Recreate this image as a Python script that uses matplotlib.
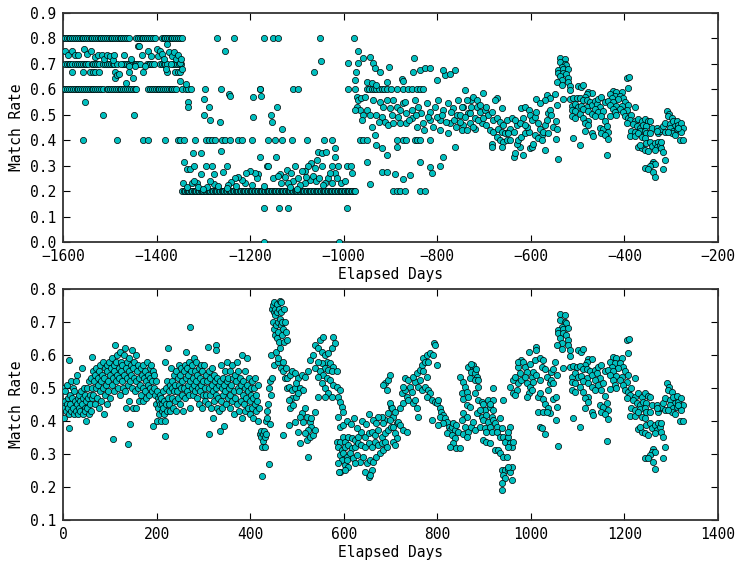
import matplotlib
matplotlib.use('Agg')
import matplotlib.pyplot as plt

plt.rcParams['font.family'] = ['DejaVu Sans Mono']

# ---- top panel: points sitting on discrete rate levels (x = elapsed day) ----
top_row_80 = [-1599, -1595, -1591, -1587, -1584, -1580, -1576, -1572, -1568, -1564, -1560, -1557,
              -1553, -1549, -1545, -1541, -1537, -1533, -1529, -1526, -1522, -1518, -1514, -1510,
              -1506, -1502, -1498, -1495, -1491, -1487, -1483, -1479, -1475, -1471, -1467, -1463,
              -1459, -1443, -1439, -1436, -1432, -1428, -1424, -1420, -1416, -1412, -1408, -1404,
              -1389, -1385, -1381, -1377, -1373, -1370, -1366, -1362, -1358, -1354, -1350, -1346,
              -1271, -1234, -1171, -1152, -1141, -1051, -978]
top_row_70 = [-1596, -1592, -1588, -1584, -1581, -1574, -1570, -1566, -1562, -1558, -1554, -1550,
              -1546, -1539, -1535, -1531, -1527, -1524, -1514, -1510, -1506, -1502, -1498, -1494,
              -1490, -1485, -1471, -1467, -1463, -1459, -1455, -1451, -1447, -1443, -1439, -1435,
              -1421, -1417, -1413, -1409, -1393, -1389, -1385, -1381, -1378, -1364, -1360, -1356,
              -1352, -1348]
top_row_667 = [-1581, -1557, -1542, -1536, -1532, -1524, -1489, -1460, -1428, -1378, -1361, -1355, -1350]
top_row_60 = [-1599, -1595, -1591, -1587, -1583, -1579, -1575, -1571, -1567, -1563, -1559, -1555,
              -1551, -1547, -1543, -1539, -1535, -1531, -1527, -1523, -1519, -1515, -1507, -1503,
              -1499, -1495, -1491, -1487, -1483, -1479, -1475, -1471, -1467, -1463, -1459, -1455,
              -1451, -1447, -1443, -1418, -1414, -1410, -1406, -1402, -1398, -1394, -1390, -1386,
              -1382, -1378, -1374, -1370, -1366, -1362, -1358, -1346, -1337, -1332, -1327, -1296,
              -1262, -1180, -1178, -1108, -1097, -990, -976, -951, -945, -940, -935, -930, -924,
              -919, -914, -908, -898, -887, -873, -862, -853, -844, -837, -830]
top_row_40 = [-1557, -1485, -1430, -1418, -1383, -1354, -1349, -1341, -1318, -1295, -1289, -1282,
              -1275, -1261, -1254, -1243, -1227, -1217, -1197, -1161, -1146, -1131, -1110, -1079,
              -1042, -1025, -965, -958, -951, -887, -873, -866, -848, -843, -837, -816]
top_row_20 = [-1345, -1342, -1339, -1336, -1333, -1330, -1327, -1324, -1321, -1318, -1315, -1312,
              -1309, -1306, -1303, -1300, -1297, -1294, -1291, -1288, -1285, -1282, -1279, -1276,
              -1273, -1270, -1267, -1264, -1261, -1258, -1255, -1252, -1249, -1246, -1243, -1240,
              -1237, -1234, -1231, -1228, -1225, -1222, -1219, -1216, -1213, -1210, -1207, -1204,
              -1201, -1198, -1195, -1192, -1189, -1186, -1183, -1180, -1177, -1174, -1171, -1168,
              -1165, -1162, -1159, -1156, -1153, -1150, -1147, -1144, -1141, -1138, -1135, -1132,
              -1129, -1126, -1123, -1120, -1117, -1114, -1111, -1108, -1105, -1102, -1099, -1096,
              -1093, -1090, -1087, -1084, -1081, -1078, -1075, -1072, -1069, -1066, -1063, -1060,
              -1057, -1054, -1051, -1048, -1045, -1042, -1039, -1036, -1033, -1030, -1027, -1024,
              -1021, -1018, -1015, -1012, -1009, -1006, -1003, -1000, -997, -994, -991, -988,
              -985, -982, -979, -976, -895, -887, -880, -869, -837, -826]
top_row_133 = [-1171, -1139, -1119, -992]
top_row_00 = [-1170, -1010]

# ---- top panel: scattered points (day, rate) ----
top_early = [(-1596, 0.75), (-1590, 0.733), (-1581, 0.75), (-1575, 0.733), (-1568, 0.733), (-1556, 0.757),
             (-1548, 0.74), (-1540, 0.75), (-1532, 0.727), (-1525, 0.733), (-1517, 0.733), (-1512, 0.72),
             (-1506, 0.733), (-1500, 0.73), (-1494, 0.716), (-1490, 0.733), (-1488, 0.645), (-1484, 0.655),
             (-1480, 0.66), (-1476, 0.7), (-1470, 0.733), (-1466, 0.625), (-1460, 0.69), (-1455, 0.72),
             (-1450, 0.645), (-1446, 0.69), (-1440, 0.77), (-1437, 0.77), (-1432, 0.733), (-1425, 0.69),
             (-1418, 0.75), (-1412, 0.73), (-1405, 0.7), (-1400, 0.76), (-1396, 0.73), (-1392, 0.75),
             (-1388, 0.74), (-1384, 0.72), (-1380, 0.68), (-1378, 0.78), (-1374, 0.745), (-1370, 0.7),
             (-1366, 0.73), (-1362, 0.745), (-1358, 0.72), (-1354, 0.735), (-1350, 0.705), (-1348, 0.72),
             (-1346, 0.68), (-1554, 0.55), (-1514, 0.5), (-1448, 0.5),
             (-1350, 0.634), (-1337, 0.62), (-1332, 0.55), (-1332, 0.53), (-1298, 0.56), (-1289, 0.53),
             (-1298, 0.5), (-1285, 0.48), (-1265, 0.47), (-1245, 0.58), (-1323, 0.351), (-1305, 0.348),
             (-1341, 0.313), (-1336, 0.287), (-1329, 0.287), (-1319, 0.299), (-1295, 0.299), (-1282, 0.299),
             (-1304, 0.266), (-1277, 0.266), (-1262, 0.359), (-1257, 0.274), (-1250, 0.299), (-1343, 0.231),
             (-1336, 0.217), (-1324, 0.231), (-1314, 0.231), (-1277, 0.228), (-1268, 0.22), (-1293, 0.217),
             (-1311, 0.217), (-1254, 0.752), (-1049, 0.71), (-1063, 0.667), (-1243, 0.575), (-1193, 0.57),
             (-1177, 0.575), (-1142, 0.53), (-1156, 0.5), (-1153, 0.47), (-1193, 0.49), (-1131, 0.445),
             (-1179, 0.335), (-1144, 0.333), (-1164, 0.3), (-1055, 0.355), (-1047, 0.348), (-1037, 0.355),
             (-1058, 0.322), (-1069, 0.309), (-1076, 0.299), (-1083, 0.279), (-1090, 0.279), (-1104, 0.299),
             (-1019, 0.368), (-1019, 0.335), (-1026, 0.299), (-1012, 0.299), (-1047, 0.299), (-994, 0.299),
             (-985, 0.299), (-982, 0.27), (-1019, 0.27), (-1033, 0.25), (-1040, 0.231), (-1026, 0.231),
             (-1072, 0.244), (-1083, 0.231), (-1094, 0.224), (-1108, 0.24), (-1119, 0.231), (-1133, 0.231),
             (-1136, 0.266), (-1122, 0.283), (-1126, 0.257), (-1151, 0.25), (-1161, 0.299), (-1183, 0.266),
             (-1186, 0.25), (-1190, 0.27), (-1201, 0.279), (-1208, 0.27), (-1211, 0.231), (-1218, 0.244),
             (-1226, 0.257), (-1233, 0.25), (-1240, 0.237), (-1247, 0.224), (-1250, 0.211), (-1065, 0.26),
             (-1060, 0.24), (-1052, 0.25), (-1044, 0.225), (-1030, 0.27), (-1015, 0.25), (-1005, 0.23),
             (-998, 0.24), (-1062, 0.29), (-1080, 0.255), (-1097, 0.25), (-1112, 0.27), (-1100, 0.21),
             (-1115, 0.215), (-1140, 0.26), (-1170, 0.22), (-1195, 0.225), (-1230, 0.22), (-1300, 0.21),
             (-1285, 0.24), (-1320, 0.24)]

top_mid = [(-969, 0.752), (-990, 0.702), (-970, 0.702), (-958, 0.722), (-944, 0.728), (-937, 0.702),
           (-933, 0.682), (-923, 0.669), (-976, 0.636), (-974, 0.669), (-950, 0.63), (-940, 0.626),
           (-930, 0.617), (-908, 0.63), (-903, 0.689), (-876, 0.639), (-873, 0.632), (-851, 0.669),
           (-849, 0.722), (-837, 0.676), (-826, 0.682), (-816, 0.682), (-801, 0.636), (-784, 0.656),
           (-773, 0.66), (-762, 0.676), (-787, 0.676), (-972, 0.571), (-969, 0.558), (-962, 0.564),
           (-955, 0.571), (-972, 0.532), (-965, 0.519), (-958, 0.499), (-951, 0.519), (-944, 0.499),
           (-937, 0.558), (-930, 0.499), (-923, 0.551), (-915, 0.532), (-908, 0.558), (-901, 0.525),
           (-894, 0.558), (-887, 0.532), (-880, 0.519), (-873, 0.545), (-866, 0.505), (-855, 0.519),
           (-848, 0.558), (-841, 0.532), (-834, 0.505), (-823, 0.545), (-816, 0.512), (-805, 0.532),
           (-798, 0.558), (-787, 0.519), (-777, 0.545), (-766, 0.525), (-755, 0.558), (-744, 0.532),
           (-734, 0.505), (-727, 0.558), (-716, 0.532), (-919, 0.492), (-912, 0.473), (-905, 0.46),
           (-894, 0.466), (-880, 0.466), (-866, 0.466), (-855, 0.486), (-844, 0.453), (-830, 0.466),
           (-816, 0.479), (-794, 0.479), (-773, 0.466), (-759, 0.453), (-744, 0.46), (-730, 0.466),
           (-719, 0.446), (-933, 0.42), (-930, 0.381), (-919, 0.368), (-908, 0.342), (-887, 0.374),
           (-951, 0.315), (-919, 0.276), (-908, 0.276), (-890, 0.267), (-873, 0.247), (-858, 0.263),
           (-837, 0.315), (-816, 0.296), (-812, 0.27), (-794, 0.298), (-762, 0.374), (-944, 0.228),
           (-787, 0.335), (-800, 0.49), (-795, 0.44), (-790, 0.5), (-782, 0.47), (-778, 0.43),
           (-770, 0.51), (-765, 0.48), (-758, 0.5), (-752, 0.47), (-748, 0.44), (-810, 0.45),
           (-820, 0.49), (-828, 0.44), (-845, 0.5), (-860, 0.48), (-870, 0.55), (-885, 0.49),
           (-897, 0.5), (-925, 0.47), (-940, 0.45), (-960, 0.48), (-976, 0.52),
           (-741, 0.597), (-723, 0.571), (-702, 0.584), (-673, 0.567), (-716, 0.558), (-727, 0.532),
           (-737, 0.558), (-748, 0.532), (-751, 0.499), (-741, 0.492), (-730, 0.505), (-719, 0.486),
           (-709, 0.512), (-698, 0.519), (-691, 0.499), (-684, 0.512), (-680, 0.479), (-673, 0.486),
           (-666, 0.473), (-659, 0.46), (-652, 0.479), (-705, 0.466), (-695, 0.46), (-687, 0.44),
           (-680, 0.433), (-670, 0.446), (-662, 0.433), (-655, 0.427), (-648, 0.433), (-673, 0.414),
           (-666, 0.401), (-659, 0.394), (-652, 0.401), (-684, 0.387), (-684, 0.374), (-662, 0.374),
           (-737, 0.44), (-723, 0.453), (-712, 0.479), (-702, 0.486), (-695, 0.532), (-662, 0.525),
           (-677, 0.558), (-709, 0.538), (-637, 0.335), (-634, 0.348), (-616, 0.342), (-623, 0.374),
           (-630, 0.387), (-627, 0.401), (-620, 0.414), (-613, 0.427), (-605, 0.433), (-602, 0.368),
           (-598, 0.374), (-595, 0.387), (-609, 0.453), (-616, 0.486), (-620, 0.525), (-613, 0.532),
           (-605, 0.519), (-602, 0.499), (-598, 0.479), (-591, 0.492), (-588, 0.512), (-584, 0.466),
           (-580, 0.446), (-577, 0.42), (-573, 0.433), (-570, 0.46), (-566, 0.479), (-563, 0.505),
           (-559, 0.519), (-556, 0.499), (-570, 0.361), (-591, 0.42), (-584, 0.407), (-577, 0.401),
           (-563, 0.427), (-552, 0.453), (-645, 0.446), (-637, 0.433), (-630, 0.46), (-623, 0.466),
           (-641, 0.486), (-634, 0.479), (-648, 0.427), (-645, 0.401), (-613, 0.46), (-566, 0.577),
           (-559, 0.564), (-570, 0.558), (-590, 0.56), (-580, 0.545)]

# ---- last ~280 days, identical in both panels (bottom-panel day numbers) ----
tail = [(1062, 0.724), (1073, 0.721), (1062, 0.706), (1073, 0.701), (1076, 0.696), (1066, 0.686),
        (1059, 0.676), (1069, 0.678), (1080, 0.681), (1059, 0.666), (1069, 0.666), (1076, 0.661),
        (1062, 0.651), (1080, 0.646), (1066, 0.635), (1080, 0.63), (1055, 0.63), (1084, 0.615),
        (1066, 0.617), (1084, 0.598), (1069, 0.56), (1052, 0.58), (1055, 0.54), (1054, 0.474),
        (1055, 0.443), (1054, 0.403), (1057, 0.325), (1101, 0.615), (1107, 0.61), (1112, 0.617),
        (1123, 0.588), (1130, 0.587), (1119, 0.58), (1116, 0.57), (1084, 0.563), (1091, 0.567),
        (1098, 0.565), (1105, 0.567), (1112, 0.557), (1119, 0.557), (1126, 0.55), (1087, 0.534),
        (1094, 0.544), (1101, 0.532), (1108, 0.536), (1119, 0.529), (1130, 0.539), (1087, 0.519),
        (1094, 0.516), (1105, 0.504), (1112, 0.522), (1123, 0.516), (1130, 0.504), (1087, 0.494),
        (1094, 0.489), (1112, 0.489), (1123, 0.474), (1116, 0.469), (1123, 0.459), (1116, 0.438),
        (1130, 0.428), (1133, 0.418), (1091, 0.408), (1104, 0.383), (1137, 0.555), (1141, 0.544),
        (1144, 0.563), (1151, 0.57), (1158, 0.55), (1148, 0.529), (1137, 0.524), (1144, 0.509),
        (1155, 0.514), (1137, 0.494), (1151, 0.494), (1158, 0.476), (1148, 0.449), (1155, 0.443),
        (1162, 0.454), (1165, 0.433), (1151, 0.428), (1158, 0.421), (1165, 0.405), (1162, 0.34),
        (1176, 0.595), (1183, 0.59), (1194, 0.59), (1169, 0.58), (1180, 0.575), (1190, 0.575),
        (1198, 0.565), (1173, 0.565), (1187, 0.56), (1165, 0.555), (1176, 0.55), (1201, 0.55),
        (1169, 0.539), (1183, 0.536), (1194, 0.534), (1176, 0.524), (1190, 0.524), (1208, 0.539),
        (1222, 0.529), (1205, 0.519), (1180, 0.509), (1198, 0.509), (1169, 0.496), (1183, 0.499),
        (1205, 0.646), (1210, 0.648), (1207, 0.607), (1201, 0.494), (1208, 0.489), (1215, 0.499),
        (1212, 0.479), (1222, 0.474), (1205, 0.469), (1219, 0.464), (1230, 0.484), (1237, 0.474),
        (1244, 0.484), (1251, 0.476), (1226, 0.454), (1233, 0.449), (1240, 0.459), (1247, 0.454),
        (1215, 0.438), (1222, 0.433), (1233, 0.435), (1244, 0.438), (1254, 0.474), (1258, 0.449),
        (1212, 0.415), (1222, 0.415), (1230, 0.428), (1237, 0.413), (1247, 0.428), (1254, 0.428),
        (1269, 0.449), (1244, 0.408), (1230, 0.375), (1237, 0.368), (1233, 0.383), (1244, 0.363),
        (1247, 0.388), (1254, 0.393), (1258, 0.378), (1251, 0.358), (1265, 0.388), (1272, 0.393),
        (1269, 0.373), (1276, 0.383), (1279, 0.393), (1265, 0.363), (1279, 0.368), (1283, 0.353),
        (1272, 0.428), (1276, 0.438), (1279, 0.443), (1283, 0.454), (1269, 0.438), (1287, 0.433),
        (1287, 0.322), (1262, 0.314), (1258, 0.307), (1265, 0.307), (1254, 0.297), (1244, 0.289),
        (1250, 0.287), (1262, 0.277), (1283, 0.287), (1265, 0.255), (1290, 0.514), (1295, 0.504),
        (1287, 0.469), (1294, 0.494), (1301, 0.489), (1297, 0.464), (1304, 0.474), (1312, 0.476),
        (1308, 0.454), (1315, 0.459), (1322, 0.469), (1297, 0.449), (1304, 0.438), (1312, 0.443),
        (1319, 0.443), (1326, 0.449), (1301, 0.428), (1308, 0.421), (1322, 0.433), (1319, 0.401),
        (1326, 0.401), (1315, 0.449), (1294, 0.433)]
tail_offset = 1600  # top panel counts days back from the end

# ---- bottom panel ----
bottom_a = [(1, 0.5), (1, 0.455), (2, 0.41), (3, 0.44), (4, 0.49), (5, 0.46), (6, 0.43), (8, 0.45),
            (9, 0.51), (10, 0.44), (11, 0.47), (12, 0.585), (13, 0.38), (13, 0.42), (15, 0.48),
            (16, 0.45), (17, 0.52), (18, 0.43), (19, 0.47), (21, 0.5), (22, 0.44), (23, 0.42),
            (24, 0.49), (26, 0.46), (27, 0.52), (28, 0.43), (29, 0.45), (30, 0.54), (31, 0.47),
            (32, 0.42), (34, 0.48), (35, 0.44), (36, 0.46), (37, 0.43), (38, 0.49), (40, 0.45),
            (41, 0.56), (42, 0.47), (43, 0.42), (44, 0.5), (46, 0.44), (47, 0.48), (48, 0.43),
            (49, 0.46), (50, 0.4), (51, 0.5), (52, 0.44), (53, 0.47), (55, 0.42), (56, 0.52),
            (57, 0.45), (58, 0.48), (59, 0.43), (60, 0.53), (61, 0.47), (62, 0.595), (63, 0.5),
            (64, 0.55), (65, 0.48), (67, 0.52), (68, 0.45), (69, 0.54), (70, 0.5), (71, 0.56),
            (72, 0.47), (74, 0.53), (75, 0.51), (76, 0.44), (77, 0.55), (78, 0.49), (80, 0.57),
            (81, 0.52), (82, 0.46), (83, 0.54), (85, 0.5), (86, 0.58), (87, 0.53), (88, 0.42),
            (89, 0.48), (90, 0.56), (92, 0.51), (93, 0.45), (94, 0.55), (95, 0.57), (96, 0.49),
            (97, 0.52), (99, 0.58), (100, 0.54), (101, 0.47), (102, 0.56), (104, 0.51), (105, 0.59),
            (106, 0.53), (107, 0.345), (108, 0.57), (109, 0.49), (110, 0.55), (112, 0.63), (113, 0.52),
            (114, 0.58), (115, 0.54), (116, 0.6), (117, 0.5), (119, 0.56), (120, 0.53), (121, 0.61),
            (122, 0.48), (123, 0.55), (125, 0.58), (126, 0.52), (127, 0.57), (128, 0.5), (130, 0.54),
            (131, 0.6), (132, 0.62), (133, 0.49), (134, 0.56), (135, 0.44), (136, 0.53), (137, 0.58),
            (138, 0.33), (139, 0.51), (140, 0.55), (141, 0.46), (142, 0.59), (143, 0.52), (144, 0.39),
            (145, 0.57), (146, 0.54), (147, 0.615), (148, 0.5), (149, 0.56), (150, 0.44), (151, 0.53),
            (152, 0.58), (153, 0.49), (155, 0.6), (156, 0.52), (157, 0.44), (158, 0.55), (160, 0.5),
            (161, 0.57), (162, 0.46), (163, 0.53), (165, 0.51), (166, 0.56), (167, 0.48), (168, 0.54),
            (170, 0.5), (171, 0.57), (172, 0.46), (173, 0.53), (175, 0.49), (176, 0.55), (177, 0.52),
            (178, 0.47), (180, 0.58), (181, 0.51), (182, 0.54), (183, 0.48), (185, 0.56), (186, 0.5),
            (187, 0.53), (188, 0.57), (190, 0.52), (191, 0.49), (192, 0.385), (193, 0.55), (194, 0.5),
            (195, 0.54), (196, 0.48), (198, 0.52), (199, 0.45), (200, 0.49), (201, 0.4), (202, 0.47),
            (203, 0.44), (205, 0.46), (206, 0.42), (207, 0.48), (208, 0.45), (209, 0.4)]

bottom_b = [(210, 0.47), (211, 0.43), (212, 0.45), (213, 0.49), (214, 0.44), (215, 0.42), (216, 0.46),
            (217, 0.4), (218, 0.355), (219, 0.58), (220, 0.45), (221, 0.5), (222, 0.43), (223, 0.52),
            (224, 0.47), (225, 0.62), (226, 0.49), (227, 0.45), (228, 0.51), (229, 0.43), (230, 0.56),
            (232, 0.5), (233, 0.47), (234, 0.52), (235, 0.44), (237, 0.49), (238, 0.54), (239, 0.46),
            (240, 0.51), (241, 0.43), (242, 0.55), (244, 0.49), (245, 0.53), (246, 0.47), (247, 0.57),
            (248, 0.51), (250, 0.54), (251, 0.45), (252, 0.5), (253, 0.56), (254, 0.48), (255, 0.52),
            (256, 0.43), (258, 0.55), (259, 0.5), (260, 0.57), (261, 0.47), (262, 0.61), (263, 0.53),
            (264, 0.49), (265, 0.56), (267, 0.51), (268, 0.54), (269, 0.48), (270, 0.58), (271, 0.52),
            (272, 0.685), (272, 0.44), (273, 0.55), (275, 0.5), (276, 0.57), (277, 0.53), (278, 0.48),
            (279, 0.59), (280, 0.51), (282, 0.55), (283, 0.49), (284, 0.58), (285, 0.52), (286, 0.47),
            (287, 0.54), (289, 0.5), (290, 0.56), (291, 0.45), (292, 0.53), (293, 0.49), (294, 0.57),
            (296, 0.51), (297, 0.44), (298, 0.55), (299, 0.48), (300, 0.52), (302, 0.57), (303, 0.5),
            (304, 0.46), (305, 0.54), (306, 0.48), (308, 0.52), (309, 0.45), (310, 0.625), (311, 0.5),
            (312, 0.55), (313, 0.36), (314, 0.48), (315, 0.53), (316, 0.44), (318, 0.51), (319, 0.56),
            (320, 0.41), (321, 0.49), (322, 0.54), (323, 0.46), (325, 0.52), (326, 0.48), (327, 0.63),
            (327, 0.615), (328, 0.5), (329, 0.44), (330, 0.53), (332, 0.47), (333, 0.51), (334, 0.43),
            (335, 0.37), (336, 0.52), (337, 0.46), (338, 0.57), (339, 0.5), (340, 0.44), (342, 0.53),
            (343, 0.48), (344, 0.51), (345, 0.385), (346, 0.55), (347, 0.49), (348, 0.45), (350, 0.52),
            (351, 0.58), (352, 0.47), (353, 0.53), (355, 0.5), (356, 0.44), (357, 0.55), (358, 0.48),
            (360, 0.51), (361, 0.57), (362, 0.46), (363, 0.53), (365, 0.49), (366, 0.42), (367, 0.54),
            (368, 0.47), (370, 0.52), (371, 0.58), (372, 0.45), (373, 0.5), (375, 0.55), (376, 0.43),
            (377, 0.49), (378, 0.53), (380, 0.46), (381, 0.51), (382, 0.41), (383, 0.6), (384, 0.48),
            (385, 0.52), (387, 0.45), (388, 0.5), (389, 0.43), (390, 0.55), (391, 0.47), (393, 0.59),
            (394, 0.51), (395, 0.44), (396, 0.49), (398, 0.53), (399, 0.46), (400, 0.42), (401, 0.5),
            (402, 0.48), (404, 0.52), (405, 0.44), (406, 0.47), (407, 0.41), (408, 0.5), (410, 0.45),
            (411, 0.53), (412, 0.43), (413, 0.48), (415, 0.46), (416, 0.4), (417, 0.51), (419, 0.44)]

bottom_c = [(421, 0.36), (423, 0.35), (424, 0.37), (425, 0.32), (426, 0.233), (427, 0.36), (428, 0.34),
            (429, 0.37), (431, 0.35), (432, 0.32), (433, 0.4), (434, 0.36), (435, 0.41), (436, 0.43),
            (438, 0.45), (440, 0.27), (441, 0.5), (442, 0.39), (443, 0.52), (444, 0.48), (445, 0.6),
            (446, 0.74), (447, 0.53), (448, 0.75), (449, 0.7), (450, 0.73), (450, 0.76), (451, 0.68),
            (452, 0.57), (453, 0.72), (453, 0.66), (454, 0.74), (455, 0.69), (456, 0.61), (457, 0.73),
            (457, 0.65), (458, 0.755), (459, 0.7), (460, 0.67), (460, 0.58), (461, 0.74), (462, 0.64),
            (463, 0.71), (464, 0.765), (464, 0.62), (465, 0.69), (466, 0.73), (467, 0.56), (467, 0.76),
            (468, 0.66), (469, 0.7), (470, 0.55), (471, 0.68), (472, 0.74), (473, 0.64), (474, 0.7),
            (475, 0.53), (476, 0.67), (477, 0.56), (478, 0.645), (479, 0.5), (460, 0.59), (471, 0.58)]

bottom_d = [(478, 0.529), (485, 0.539), (489, 0.55), (496, 0.544), (503, 0.529), (510, 0.539),
            (517, 0.534), (524, 0.55), (482, 0.504), (489, 0.494), (496, 0.499), (499, 0.514),
            (506, 0.499), (514, 0.494), (489, 0.469), (482, 0.464), (485, 0.438), (492, 0.449),
            (499, 0.474), (503, 0.484), (510, 0.423), (506, 0.413), (517, 0.438), (514, 0.398),
            (521, 0.413), (528, 0.398), (531, 0.383), (524, 0.373), (517, 0.363), (521, 0.342),
            (506, 0.332), (528, 0.353), (535, 0.358), (539, 0.373), (531, 0.408), (539, 0.428),
            (524, 0.292), (482, 0.388), (471, 0.358), (503, 0.368), (496, 0.398), (528, 0.585),
            (535, 0.6), (539, 0.63), (549, 0.646), (556, 0.656), (546, 0.62), (553, 0.61), (560, 0.6),
            (567, 0.605), (574, 0.62), (578, 0.656), (581, 0.635), (564, 0.58), (571, 0.575),
            (578, 0.565), (553, 0.575), (560, 0.56), (567, 0.555), (574, 0.55), (585, 0.55),
            (546, 0.58), (539, 0.56), (549, 0.55), (556, 0.539), (564, 0.529), (546, 0.534),
            (553, 0.514), (560, 0.499), (571, 0.524), (578, 0.509), (585, 0.504), (592, 0.494),
            (567, 0.484), (574, 0.474), (546, 0.474), (560, 0.474), (588, 0.474), (592, 0.459),
            (596, 0.443), (588, 0.413), (599, 0.428), (592, 0.383), (599, 0.388)]

bottom_e = [(585, 0.337), (592, 0.337), (599, 0.353), (603, 0.337), (610, 0.353), (617, 0.348),
            (624, 0.342), (631, 0.353), (638, 0.368), (645, 0.353), (653, 0.363), (660, 0.368),
            (667, 0.358), (674, 0.373), (681, 0.353), (688, 0.363), (695, 0.373), (702, 0.383),
            (588, 0.322), (596, 0.312), (603, 0.322), (610, 0.327), (617, 0.317), (624, 0.322),
            (631, 0.332), (638, 0.327), (645, 0.322), (653, 0.332), (660, 0.322), (667, 0.337),
            (674, 0.327), (681, 0.332), (688, 0.337), (592, 0.297), (599, 0.302), (606, 0.292),
            (613, 0.302), (620, 0.287), (628, 0.297), (635, 0.277), (642, 0.292), (649, 0.272),
            (656, 0.282), (663, 0.277), (670, 0.292), (677, 0.302), (685, 0.312), (692, 0.322),
            (596, 0.282), (603, 0.267), (610, 0.262), (592, 0.246), (603, 0.251), (624, 0.272),
            (645, 0.246), (653, 0.231), (660, 0.251), (656, 0.236), (590, 0.245), (588, 0.272),
            (606, 0.282), (688, 0.403), (695, 0.423), (702, 0.443), (688, 0.514), (695, 0.524),
            (685, 0.509), (692, 0.494), (699, 0.539), (681, 0.413), (674, 0.413), (685, 0.393),
            (663, 0.403), (670, 0.393), (607, 0.4), (615, 0.39), (622, 0.41), (628, 0.38),
            (640, 0.4), (648, 0.39), (655, 0.42)]

bottom_f = [(699, 0.454), (703, 0.438), (706, 0.413), (710, 0.428), (699, 0.403), (713, 0.393),
            (706, 0.383), (717, 0.398), (720, 0.388), (710, 0.363), (713, 0.348), (706, 0.337),
            (710, 0.327), (720, 0.438), (727, 0.454), (724, 0.484), (731, 0.494), (727, 0.504),
            (735, 0.474), (738, 0.464), (731, 0.529), (738, 0.524), (742, 0.504), (745, 0.489),
            (749, 0.454), (752, 0.464), (756, 0.438), (759, 0.413), (752, 0.519), (749, 0.534),
            (756, 0.544), (763, 0.555), (767, 0.57), (770, 0.59), (774, 0.58), (777, 0.6),
            (781, 0.58), (784, 0.605), (792, 0.635), (770, 0.55), (777, 0.534), (763, 0.524),
            (759, 0.504), (767, 0.494), (774, 0.504), (781, 0.494), (784, 0.484), (777, 0.474),
            (788, 0.464), (795, 0.459), (799, 0.454), (802, 0.464), (806, 0.438), (809, 0.428),
            (813, 0.418), (806, 0.413), (816, 0.408), (820, 0.398), (824, 0.383), (827, 0.373),
            (831, 0.383), (834, 0.393), (838, 0.373), (820, 0.363), (831, 0.358), (841, 0.388),
            (845, 0.368), (838, 0.348), (834, 0.332), (841, 0.317), (827, 0.322), (813, 0.393),
            (802, 0.388), (788, 0.403), (727, 0.373), (735, 0.368), (795, 0.63), (790, 0.6),
            (800, 0.57)]

bottom_g = [(849, 0.534), (856, 0.519), (859, 0.504), (852, 0.484), (863, 0.489), (856, 0.468),
            (866, 0.473), (863, 0.448), (870, 0.443), (856, 0.423), (863, 0.413), (852, 0.403),
            (859, 0.383), (856, 0.362), (849, 0.317), (866, 0.367), (873, 0.383), (863, 0.352),
            (866, 0.564), (877, 0.559), (873, 0.549), (881, 0.544), (870, 0.529), (884, 0.534),
            (881, 0.524), (888, 0.524), (877, 0.569), (873, 0.574), (883, 0.559), (888, 0.502),
            (881, 0.484), (888, 0.463), (884, 0.423), (877, 0.398), (881, 0.372), (895, 0.458),
            (898, 0.453), (902, 0.433), (891, 0.433), (895, 0.413), (905, 0.418), (898, 0.403),
            (891, 0.383), (902, 0.378), (909, 0.398), (913, 0.383), (905, 0.367), (916, 0.367),
            (909, 0.463), (920, 0.463), (913, 0.443), (920, 0.433), (916, 0.413), (920, 0.499),
            (913, 0.453), (898, 0.342), (905, 0.337), (913, 0.332), (920, 0.403), (923, 0.393),
            (927, 0.383), (927, 0.367), (934, 0.352), (934, 0.408), (938, 0.378), (941, 0.463),
            (941, 0.352), (948, 0.342), (945, 0.337), (952, 0.352), (955, 0.383), (952, 0.367),
            (955, 0.332), (959, 0.322), (962, 0.337), (952, 0.322), (923, 0.312), (930, 0.312),
            (934, 0.302), (941, 0.292), (948, 0.292), (938, 0.251), (945, 0.251), (952, 0.256),
            (955, 0.246), (959, 0.261), (941, 0.236), (945, 0.226), (938, 0.211), (938, 0.191),
            (952, 0.261), (959, 0.221), (955, 0.504), (962, 0.524), (966, 0.534), (962, 0.484),
            (970, 0.494), (966, 0.479), (973, 0.514), (977, 0.544), (973, 0.564), (980, 0.585),
            (973, 0.58), (984, 0.58), (987, 0.564), (991, 0.549), (980, 0.524), (987, 0.534),
            (995, 0.61), (998, 0.574), (1002, 0.534), (1005, 0.549), (991, 0.514), (998, 0.504),
            (995, 0.484), (1002, 0.494), (991, 0.473), (1005, 0.519), (1009, 0.585), (1011, 0.625),
            (1012, 0.615), (1019, 0.59), (1023, 0.564), (1012, 0.539), (1027, 0.585), (1030, 0.559),
            (1034, 0.534), (1019, 0.524), (1016, 0.473), (1019, 0.484), (1027, 0.468), (1030, 0.453),
            (1037, 0.494), (1041, 0.514), (1044, 0.524), (1048, 0.514), (1044, 0.549), (1048, 0.559),
            (1037, 0.438), (1041, 0.423), (1019, 0.383), (1023, 0.378), (1030, 0.362), (1016, 0.428),
            (1027, 0.428), (1034, 0.428), (1048, 0.468)]


def split(pts):
    return [p[0] for p in pts], [p[1] for p in pts]


def style_axes(ax):
    ax.tick_params(direction='in', top=True, right=True, length=5, width=0.8,
                   labelsize=10.5, pad=5)
    for sp in ax.spines.values():
        sp.set_linewidth(1.3)
        sp.set_color('#333333')
    ax.set_xlabel('Elapsed Days', fontsize=10.5, labelpad=2)
    ax.set_ylabel('Match Rate', fontsize=10.5)


# top panel data
tx, ty = [], []
for level, xs in [(0.8, top_row_80), (0.7, top_row_70), (0.667, top_row_667), (0.6, top_row_60),
                  (0.4, top_row_40), (0.2, top_row_20), (0.133, top_row_133), (0.0, top_row_00)]:
    tx += xs
    ty += [level] * len(xs)
for pts in [top_early, top_mid]:
    a, b = split(pts)
    tx += a
    ty += b
a, b = split(tail)
tx += [v - tail_offset for v in a]
ty += b

# bottom panel data
bx, by = [], []
for pts in [bottom_a, bottom_b, bottom_c, bottom_d, bottom_e, bottom_f, bottom_g, tail]:
    a, b = split(pts)
    bx += a
    by += b

fig = plt.figure(figsize=(7.37, 5.67), dpi=100)
ax1 = fig.add_axes([0.0855, 0.5732, 0.8887, 0.4039])
ax2 = fig.add_axes([0.0855, 0.0829, 0.8887, 0.4074])

ax1.scatter(tx, ty, s=20, c='c', edgecolors='k', linewidths=0.5, zorder=3)
ax1.set_xlim(-1600, -200)
ax1.set_ylim(0.0, 0.9)
ax1.set_xticks(range(-1600, -199, 200))
ax1.set_yticks([i / 10 for i in range(10)])
style_axes(ax1)

ax2.scatter(bx, by, s=20, c='c', edgecolors='k', linewidths=0.5, zorder=3)
ax2.set_xlim(0, 1400)
ax2.set_ylim(0.1, 0.8)
ax2.set_xticks(range(0, 1401, 200))
ax2.set_yticks([i / 10 for i in range(1, 9)])
style_axes(ax2)

fig.savefig('out.png', dpi=100)
